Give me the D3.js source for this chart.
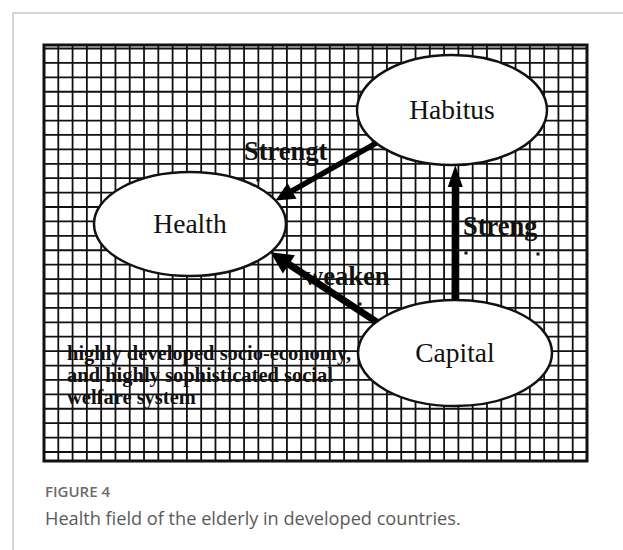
<!DOCTYPE html>
<html>
<head>
<meta charset="utf-8">
<script src="https://cdn.jsdelivr.net/npm/d3@7"></script>
<style>
  body { margin: 0; background: #fff; }
  svg { display: block; }
</style>
</head>
<body>
<main></main>
<script>
// diagram content
const nodeNames = ["Habitus", "Health", "Capital"];
const linkSources = ["Habitus", "Capital", "Capital"];
const linkTargets = ["Health", "Health", "Habitus"];
const linkLabels = ["Strengt", "weaken", "Streng"];
const contextLines = ["highly developed socio-economy,", "and highly sophisticated social", "welfare system"];
const figureLabel = "FIGURE 4";
const caption = "Health field of the elderly in developed countries.";

const w = 623;
const h = 550;

const svg = d3.select("main").append("svg")
  .attr("width", w)
  .attr("height", h);

// card border (top + left only)
svg.append("path")
  .attr("d", `M13,${h} L13,13 L${w},13`)
  .attr("fill", "none")
  .attr("stroke", "#c8c8c8")
  .attr("stroke-width", 1.5);

// grid area
const box = { x0: 44, x1: 587, y0: 45, y1: 461 };
const cols = 38;
const rows = 28;
const gx = d3.scaleLinear().domain([0, cols]).range([box.x0, box.x1]);
const gy = d3.scaleLinear().domain([0, rows]).range([48.5, 452]);

const grid = svg.append("g").attr("stroke", "#111").attr("stroke-width", 1.8);
grid.selectAll("line.v")
  .data(d3.range(1, cols))
  .enter().append("line")
  .attr("class", "v")
  .attr("x1", d => gx(d)).attr("x2", d => gx(d))
  .attr("y1", box.y0).attr("y2", box.y1);
grid.selectAll("line.h")
  .data(d3.range(0, rows + 1))
  .enter().append("line")
  .attr("class", "h")
  .attr("x1", box.x0).attr("x2", box.x1)
  .attr("y1", d => gy(d)).attr("y2", d => gy(d));
svg.append("rect")
  .attr("x", box.x0).attr("y", box.y0)
  .attr("width", box.x1 - box.x0).attr("height", box.y1 - box.y0)
  .attr("fill", "none").attr("stroke", "#111").attr("stroke-width", 3);

// context text (bottom left)
svg.append("g").selectAll("text")
  .data(contextLines)
  .enter().append("text")
  .attr("x", 67)
  .attr("y", (d, i) => 360 + i * 22)
  .attr("font-family", "Liberation Serif, Times New Roman, serif")
  .attr("font-weight", "bold")
  .attr("font-size", 20.5)
  .attr("fill", "#111")
  .text(d => d);

// node layout
const layout = {
  Habitus: { cx: 452, cy: 110, rx: 95, ry: 55 },
  Health: { cx: 190, cy: 224, rx: 96, ry: 52 },
  Capital: { cx: 455, cy: 353, rx: 97, ry: 53 }
};
// where each arrow leaves / reaches its ellipse (degrees, svg orientation)
const linkLayout = [
  { a0: 143, a1: -27, width: 5.5, head: 19, headW: 18, lx: 244, ly: 160 },
  { a0: -144, a1: 33, width: 7, head: 22, headW: 22, lx: 304, ly: 285 },
  { a0: -90, a1: 88, width: 7, head: 22, headW: 15, lx: 463, ly: 235 }
];
// small specks left from cut-off second label lines
const specks = [[258, 180], [466, 253], [538, 254], [360, 304]];

function onEllipse(n, deg) {
  const t = deg * Math.PI / 180;
  const e = layout[n];
  return [e.cx + e.rx * Math.cos(t), e.cy + e.ry * Math.sin(t)];
}

// link labels
svg.append("g").selectAll("text")
  .data(linkLabels)
  .enter().append("text")
  .attr("x", (d, i) => linkLayout[i].lx)
  .attr("y", (d, i) => linkLayout[i].ly)
  .attr("font-family", "Liberation Serif, Times New Roman, serif")
  .attr("font-weight", "bold")
  .attr("font-size", 26.5)
  .attr("fill", "#111")
  .text(d => d);

svg.append("g").selectAll("rect")
  .data(specks)
  .enter().append("rect")
  .attr("x", d => d[0] - 1.5).attr("y", d => d[1] - 1.5)
  .attr("width", 3).attr("height", 3)
  .attr("fill", "#111");

// ellipses
const nodes = svg.append("g").selectAll("g")
  .data(nodeNames)
  .enter().append("g");
nodes.append("ellipse")
  .attr("cx", d => layout[d].cx)
  .attr("cy", d => layout[d].cy)
  .attr("rx", d => layout[d].rx)
  .attr("ry", d => layout[d].ry)
  .attr("fill", "#fff")
  .attr("stroke", "#111")
  .attr("stroke-width", 2.5);
nodes.append("text")
  .attr("x", d => layout[d].cx)
  .attr("y", d => layout[d].cy + 9)
  .attr("text-anchor", "middle")
  .attr("font-family", "Liberation Serif, Times New Roman, serif")
  .attr("font-size", 27.5)
  .attr("fill", "#111")
  .text(d => d);

// arrows
const arrows = svg.append("g");
linkSources.forEach((s, i) => {
  const L = linkLayout[i];
  const p0 = onEllipse(s, L.a0);
  const p1 = onEllipse(linkTargets[i], L.a1);
  const dx = p1[0] - p0[0], dy = p1[1] - p0[1];
  const len = Math.hypot(dx, dy);
  const ux = dx / len, uy = dy / len;
  const nx = -uy, ny = ux;
  const bx = p1[0] - ux * L.head, by = p1[1] - uy * L.head;
  arrows.append("line")
    .attr("x1", p0[0]).attr("y1", p0[1])
    .attr("x2", bx + ux * 2).attr("y2", by + uy * 2)
    .attr("stroke", "#000")
    .attr("stroke-width", L.width);
  arrows.append("polygon")
    .attr("points", [
      p1,
      [bx + nx * L.headW / 2, by + ny * L.headW / 2],
      [bx - nx * L.headW / 2, by - ny * L.headW / 2]
    ].map(p => p.join(",")).join(" "))
    .attr("fill", "#000");
});

// caption
svg.append("text")
  .attr("x", 45).attr("y", 497)
  .attr("font-family", "Open Sans, sans-serif")
  .attr("font-weight", 600)
  .attr("font-size", 15)
  .attr("fill", "#6b6b6b")
  .text(figureLabel);

const cap = svg.append("text")
  .attr("x", 45).attr("y", 525)
  .attr("font-family", "Open Sans, sans-serif")
  .attr("font-size", 19)
  .attr("fill", "#5a5a5a")
  .text(caption);
// fit caption width to the figure
const capLen = cap.node().getComputedTextLength();
cap.attr("font-size", 19 * 416 / capLen);
</script>
</body>
</html>
